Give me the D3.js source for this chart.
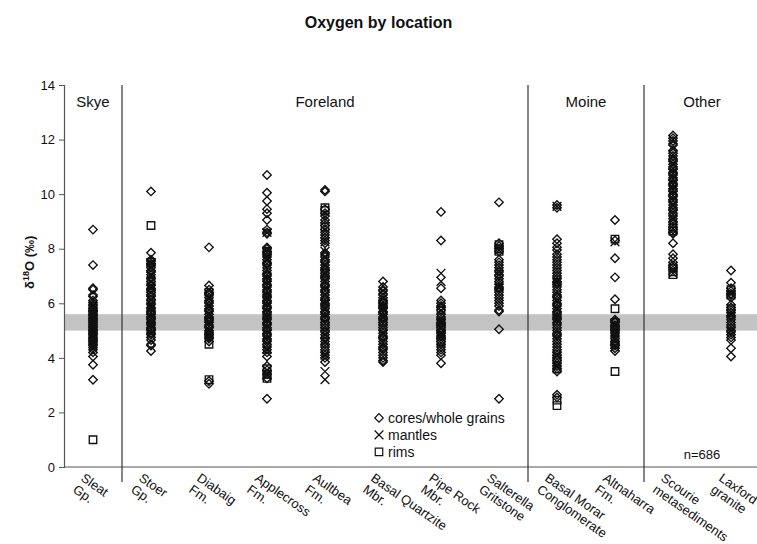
<!DOCTYPE html>
<html>
<head>
<meta charset="utf-8">
<script src="https://cdn.jsdelivr.net/npm/d3@7"></script>
<style>
  body { margin: 0; background: #fff; }
  text { font-family: "Liberation Sans", Arial, sans-serif; fill: #111; }
</style>
</head>
<body>
<div id="chart"></div>
<script>
// ---------------- data
const locations = ["Sleat", "Stoer", "Diabaig", "Applecross", "Aultbea", "Basal Quartzite",
  "Pipe Rock", "Salterella", "Basal Morar", "Altnaharra", "Scourie", "Laxford"]

const tickLabels = [["Sleat", "Gp."], ["Stoer", "Gp."], ["Diabaig", "Fm."], ["Applecross", "Fm."],
  ["Aultbea", "Fm."], ["Basal Quartzite", "Mbr."], ["Pipe Rock", "Mbr."], ["Salterella", "Gritstone"],
  ["Basal Morar", "Conglomerate"], ["Altnaharra", "Fm."], ["Scourie", "metasediments"], ["Laxford", "granite"]]

const regions = ["Skye", "Foreland", "Moine", "Other"]
const regionFirst = ["Sleat", "Stoer", "Basal Morar", "Scourie"]
const regionLast = ["Sleat", "Salterella", "Altnaharra", "Laxford"]

const mantleBand = [5.0, 5.6]
const yTicks = [0, 2, 4, 6, 8, 10, 12, 14]

const coreValues = [
  [8.7, 7.4, 6.55, 6.5, 6.3, 6.25, 6.1, 6.02, 5.95, 5.9, 5.83, 5.8, 5.74, 5.7, 5.64, 5.6, 5.55, 5.5, 5.44, 5.4, 5.36, 5.3, 5.24, 5.2, 5.15, 5.1, 5.04, 5.0, 4.95, 4.9, 4.86, 4.8, 4.74, 4.7, 4.65, 4.6, 4.54, 4.5, 4.45, 4.38, 4.3, 4.2, 4.05, 3.75, 3.2],
  [10.1, 7.85, 7.6, 7.55, 7.45, 7.4, 7.3, 7.2, 7.15, 7.05, 6.95, 6.9, 6.8, 6.7, 6.65, 6.55, 6.5, 6.4, 6.3, 6.25, 6.15, 6.1, 6.0, 5.95, 5.85, 5.8, 5.7, 5.65, 5.6, 5.5, 5.45, 5.4, 5.3, 5.25, 5.2, 5.1, 5.05, 5.0, 4.9, 4.85, 4.75, 4.65, 4.5, 4.45, 4.25],
  [8.05, 6.65, 6.5, 6.4, 6.35, 6.3, 6.2, 6.1, 6.05, 6.0, 5.9, 5.8, 5.75, 5.7, 5.6, 5.5, 5.45, 5.4, 5.35, 5.3, 5.2, 5.15, 5.1, 5.0, 4.95, 4.9, 4.85, 4.8, 4.75, 4.7, 4.6, 3.15, 3.05],
  [10.7, 10.05, 9.75, 9.45, 9.3, 9.05, 8.7, 8.6, 8.55, 8.05, 8.0, 7.9, 7.85, 7.8, 7.7, 7.6, 7.5, 7.45, 7.4, 7.3, 7.2, 7.1, 7.05, 7.0, 6.9, 6.85, 6.8, 6.7, 6.65, 6.6, 6.5, 6.45, 6.4, 6.3, 6.25, 6.2, 6.1, 6.05, 6.0, 5.9, 5.85, 5.8, 5.7, 5.65, 5.6, 5.5, 5.45, 5.4, 5.3, 5.25, 5.2, 5.1, 5.05, 5.0, 4.9, 4.85, 4.8, 4.7, 4.65, 4.6, 4.5, 4.4, 4.3, 4.2, 4.05, 3.7, 3.55, 3.4, 3.25, 2.5],
  [10.15, 10.1, 9.45, 9.3, 9.2, 9.05, 8.95, 8.85, 8.7, 8.6, 8.5, 8.4, 8.3, 8.2, 7.85, 7.8, 7.7, 7.6, 7.55, 7.5, 7.4, 7.3, 7.25, 7.2, 7.1, 7.0, 6.95, 6.9, 6.8, 6.7, 6.65, 6.6, 6.5, 6.45, 6.4, 6.3, 6.2, 6.15, 6.1, 6.0, 5.95, 5.9, 5.8, 5.7, 5.65, 5.6, 5.5, 5.45, 5.4, 5.3, 5.2, 5.1, 5.0, 4.95, 4.85, 4.75, 4.7, 4.6, 4.5, 4.4, 4.3, 4.2, 4.1, 4.0, 3.85],
  [6.8, 6.6, 6.5, 6.45, 6.35, 6.3, 6.2, 6.1, 6.05, 6.0, 5.9, 5.85, 5.8, 5.7, 5.65, 5.6, 5.5, 5.45, 5.4, 5.3, 5.2, 5.1, 5.0, 4.9, 4.8, 4.75, 4.7, 4.6, 4.5, 4.4, 4.35, 4.3, 4.2, 4.1, 4.0, 3.9, 3.85],
  [9.35, 8.3, 6.55, 6.1, 6.0, 5.9, 5.85, 5.75, 5.6, 5.5, 5.4, 5.3, 5.25, 5.2, 5.1, 5.0, 4.95, 4.9, 4.8, 4.7, 4.6, 4.5, 4.4, 4.3, 4.2, 4.1, 3.8],
  [9.7, 8.2, 8.1, 8.0, 7.9, 7.6, 7.5, 7.4, 7.3, 7.2, 7.15, 7.05, 7.0, 6.9, 6.8, 6.7, 6.6, 6.55, 6.5, 6.4, 6.3, 6.2, 6.1, 6.0, 5.9, 5.75, 5.7, 5.05, 2.5],
  [9.6, 9.5, 8.35, 8.2, 8.05, 7.95, 7.8, 7.7, 7.6, 7.5, 7.4, 7.3, 7.2, 7.1, 7.0, 6.9, 6.8, 6.75, 6.7, 6.6, 6.5, 6.4, 6.3, 6.25, 6.2, 6.1, 6.0, 5.95, 5.9, 5.8, 5.7, 5.65, 5.6, 5.5, 5.45, 5.4, 5.3, 5.2, 5.1, 5.0, 4.9, 4.85, 4.8, 4.7, 4.6, 4.5, 4.4, 4.3, 4.2, 4.1, 4.0, 3.9, 3.8, 3.7, 3.6, 3.5, 2.65, 2.55],
  [9.05, 8.3, 7.65, 6.95, 6.15, 5.4, 5.35, 5.3, 5.2, 5.15, 5.1, 5.05, 5.0, 4.95, 4.9, 4.8, 4.7, 4.6, 4.5, 4.45, 4.35, 4.25],
  [12.15, 12.05, 11.95, 11.8, 11.6, 11.5, 11.4, 11.3, 11.25, 11.2, 11.1, 11.0, 10.95, 10.9, 10.8, 10.75, 10.7, 10.6, 10.55, 10.5, 10.4, 10.35, 10.3, 10.2, 10.15, 10.1, 10.0, 9.95, 9.9, 9.8, 9.75, 9.7, 9.6, 9.5, 9.45, 9.4, 9.3, 9.2, 9.1, 9.0, 8.9, 8.8, 8.7, 8.6, 8.55, 8.2, 7.8, 7.65, 7.5, 7.4, 7.3],
  [7.2, 6.75, 6.55, 6.45, 6.35, 6.3, 6.2, 5.95, 5.85, 5.75, 5.65, 5.55, 5.5, 5.4, 5.3, 5.2, 5.1, 5.0, 4.95, 4.85, 4.75, 4.65, 4.35, 4.05]
]

const mantleValues = [
  [5.9, 5.6, 5.2, 4.8],
  [7.5, 7.3, 7.0, 6.6, 5.9, 5.2, 4.9],
  [5.6, 5.0],
  [8.6, 7.6, 6.2, 5.4, 4.3, 3.55, 3.35],
  [8.25, 7.9, 6.0, 4.6, 4.1, 3.5, 3.2],
  [5.8, 4.9],
  [7.1, 6.8, 5.3, 4.9],
  [7.95, 6.6],
  [9.55, 6.8, 5.4, 4.1, 3.7],
  [8.25, 5.2, 4.9, 4.7, 4.4],
  [12.0, 11.7, 9.1, 7.2, 7.1],
  [6.4, 5.6, 5.0]
]

const rimValues = [
  [1.0],
  [8.85, 7.5, 6.4, 5.6, 5.0],
  [6.4, 4.5, 3.2],
  [7.9, 3.6, 3.4, 3.25],
  [9.5, 9.4, 8.8, 7.1, 5.2],
  [6.0, 5.3],
  [5.75, 5.3, 5.1, 4.8, 4.6],
  [8.15, 8.0, 7.9],
  [4.0, 3.6, 2.45, 2.25],
  [8.35, 5.8, 5.3, 4.5, 3.5],
  [8.75, 8.65, 7.3, 7.15, 7.05],
  [6.5, 6.3, 5.8]
]

const legendItems = ["cores/whole grains", "mantles", "rims"]
const sampleCount = "n=686"

// ---------------- dimensions
const dimensions = {
  width: 757,
  height: 544,
  margin: { top: 85, right: -3, bottom: 77, left: 64 }
}
dimensions.boundedWidth = dimensions.width - dimensions.margin.left - dimensions.margin.right
dimensions.boundedHeight = dimensions.height - dimensions.margin.top - dimensions.margin.bottom

const wrapper = d3.select("#chart").append("svg")
  .attr("width", dimensions.width)
  .attr("height", dimensions.height)

const bounds = wrapper.append("g")
  .attr("transform", `translate(${dimensions.margin.left},${dimensions.margin.top})`)

// ---------------- scales
const xScale = d3.scaleBand()
  .domain(locations)
  .range([0, dimensions.boundedWidth])

const yScale = d3.scaleLinear()
  .domain([0, 14])
  .range([dimensions.boundedHeight, 0])

const xCenter = name => xScale(name) + xScale.bandwidth() / 2

// ---------------- mantle band
bounds.append("rect")
  .attr("x", 0)
  .attr("width", dimensions.boundedWidth)
  .attr("y", yScale(mantleBand[1]))
  .attr("height", yScale(mantleBand[0]) - yScale(mantleBand[1]))
  .attr("fill", "#c3c3c3")

// ---------------- axes
const yAxis = bounds.append("g")
  .call(d3.axisLeft(yScale).tickValues(yTicks).tickSize(5).tickPadding(4))
yAxis.selectAll("text").style("font-size", "13px")
yAxis.select(".domain").attr("stroke", "#555").attr("stroke-width", 1.2)
yAxis.selectAll(".tick line").attr("stroke", "#555")

bounds.append("line")
  .attr("x1", 0).attr("x2", dimensions.boundedWidth)
  .attr("y1", dimensions.boundedHeight).attr("y2", dimensions.boundedHeight)
  .attr("stroke", "#555").attr("stroke-width", 1.2)

// region separators
const separators = regionFirst.slice(1).map(name => xScale(name))
bounds.selectAll(".sep")
  .data(separators)
  .join("line")
  .attr("class", "sep")
  .attr("x1", d => d).attr("x2", d => d)
  .attr("y1", 0).attr("y2", dimensions.boundedHeight + 15)
  .attr("stroke", "#333").attr("stroke-width", 1.2)

// region labels
bounds.selectAll(".region")
  .data(regions)
  .join("text")
  .attr("class", "region")
  .attr("x", (d, i) => (xCenter(regionFirst[i]) + xCenter(regionLast[i])) / 2)
  .attr("y", 22)
  .attr("text-anchor", "middle")
  .style("font-size", "15px")
  .text(d => d)

// x tick labels
const labelGroups = bounds.selectAll(".xlabel")
  .data(locations)
  .join("text")
  .attr("class", "xlabel")
  .attr("transform", d => `translate(${xCenter(d) - 13},${dimensions.boundedHeight + 13}) rotate(35)`)
  .style("font-size", "13px")
labelGroups.selectAll("tspan")
  .data((d, i) => tickLabels[i])
  .join("tspan")
  .attr("x", 0)
  .attr("dy", (d, i) => i === 0 ? 0 : 14)
  .text(d => d)

// ---------------- points
const diamond = d3.symbol(d3.symbolSquare, 36)()
const square = d3.symbol(d3.symbolSquare, 56)()
const cross = d3.symbol(d3.symbolTimes, 52)()

const flatten = (arr, kind) => arr.flatMap((vals, i) => vals.map(v => ({ loc: locations[i], v, kind })))
const points = [
  ...flatten(rimValues, "rim"),
  ...flatten(mantleValues, "mantle"),
  ...flatten(coreValues, "core")
]

const pathFor = { core: diamond, mantle: cross, rim: square }
const rotFor = { core: 45, mantle: 0, rim: 0 }

bounds.append("g")
  .selectAll("path")
  .data(points)
  .join("path")
  .attr("d", d => pathFor[d.kind])
  .attr("transform", d => `translate(${xCenter(d.loc)},${yScale(d.v)}) rotate(${rotFor[d.kind]})`)
  .attr("fill", "none")
  .attr("stroke", "#111")
  .attr("stroke-width", 1.35)

// ---------------- legend
const legend = bounds.append("g")
  .attr("transform", `translate(${xCenter("Pipe Rock") - 62},${yScale(1.8)})`)
legend.selectAll("path")
  .data(legendItems)
  .join("path")
  .attr("d", (d, i) => [diamond, cross, square][i])
  .attr("transform", (d, i) => `translate(0,${i * 17}) rotate(${i === 0 ? 45 : 0})`)
  .attr("fill", "none").attr("stroke", "#111").attr("stroke-width", 1.2)
legend.selectAll("text")
  .data(legendItems)
  .join("text")
  .attr("x", 9)
  .attr("y", (d, i) => i * 17 + 5)
  .style("font-size", "14px")
  .text(d => d)

bounds.append("text")
  .attr("x", (xCenter("Scourie") + xCenter("Laxford")) / 2)
  .attr("y", yScale(0.3))
  .attr("text-anchor", "middle")
  .style("font-size", "13px")
  .text(sampleCount)

// ---------------- title and y label
wrapper.append("text")
  .attr("x", dimensions.width / 2)
  .attr("y", 28)
  .attr("text-anchor", "middle")
  .style("font-size", "16px")
  .style("font-weight", "bold")
  .text("Oxygen by location")

const yLabel = wrapper.append("text")
  .attr("transform", `translate(34,${dimensions.margin.top + yScale(7.5)}) rotate(-90)`)
  .attr("text-anchor", "middle")
  .style("font-size", "13px")
  .style("font-weight", "bold")
yLabel.append("tspan").text("δ")
yLabel.append("tspan").attr("dy", -5).style("font-size", "9px").text("18")
yLabel.append("tspan").attr("dy", 5).text("O (‰)")
</script>
</body>
</html>
